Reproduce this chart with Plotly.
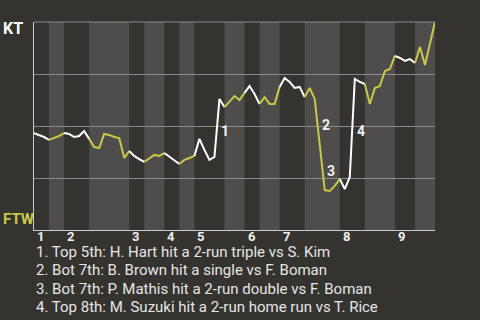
import plotly.graph_objects as go

# ---- data -----------------------------------------------------------
away_team = "KT"
home_team = "FTW"

# KT win probability (%) after each play
win_prob = [46.6, 45.7, 44.7, 43.3, 44.2, 45.2, 46.6, 46.2, 44.7, 45.2,
            47.6, 43.8, 39.9, 39.4, 46.2, 45.7, 44.7, 44.2, 34.6, 38.0,
            35.6, 34.1, 32.7, 34.6, 36.1, 35.6, 37.0, 35.1, 33.2, 31.7,
            33.7, 34.6, 35.6, 43.8, 38.5, 33.7, 35.1, 63.0, 59.1, 61.5,
            64.4, 62.5, 65.9, 69.2, 65.4, 60.6, 63.9, 60.6, 60.6, 68.8,
            73.1, 71.2, 68.3, 68.8, 63.9, 68.3, 63.0, 40.9, 19.2, 18.8,
            21.2, 24.5, 19.7, 25.5, 72.6, 71.2, 70.2, 60.6, 68.3, 69.2,
            76.4, 77.4, 83.7, 82.7, 81.3, 82.2, 80.3, 88.0, 79.3, 89.4,
            100.0]

# play index at which each half inning starts (top 1, bot 1, top 2, ...)
half_starts = [0, 3, 6, 11, 19, 22, 26, 29, 32, 38, 42, 45, 49, 54, 61, 66, 72, 76]
last_play = 80
inning_labels = ["1", "2", "3", "4", "5", "6", "7", "8", "9"]

event_plays = [37, 57, 58, 64]
event_texts = [
    "Top 5th: H. Hart hit a 2-run triple vs S. Kim",
    "Bot 7th: B. Brown hit a single vs F. Boman",
    "Bot 7th: P. Mathis hit a 2-run double vs F. Boman",
    "Top 8th: M. Suzuki hit a 2-run home run vs T. Rice",
]

# ---- style ----------------------------------------------------------
BG = "#35332f"
BAND = "#4e4d4b"
YEL = "#c8c84c"
WHITE = "#ffffff"
GRID = "#8a8a8a"
FONT = "Roboto"

fig = go.Figure()
bounds = half_starts + [last_play]
for k in range(len(half_starts)):
    a, b = bounds[k], bounds[k + 1]
    color = WHITE if k % 2 == 0 else YEL
    fig.add_trace(go.Scatter(
        x=list(range(a, b + 1)), y=win_prob[a:b + 1], mode="lines",
        line=dict(color=color, width=2), hoverinfo="skip", showlegend=False))
    if k % 2 == 1:
        fig.add_shape(type="rect", xref="x", yref="paper", x0=a, x1=b,
                      y0=0, y1=1, fillcolor=BAND, line_width=0, layer="below")
# top border gridline
fig.add_shape(type="line", xref="paper", yref="paper", x0=0, x1=1, y0=1, y1=1,
              line=dict(color=GRID, width=1), layer="below")

annotations = []
# inning numbers
for lab, start in zip(inning_labels, half_starts[::2]):
    annotations.append(dict(x=start, y=0, xref="x", yref="paper", text=f"<b>{lab}</b>",
                            xanchor="left", yanchor="middle", xshift=1, yshift=-6,
                            showarrow=False, font=dict(family=FONT, size=13, color="#f0f0f0")))
# event markers
for n, p in enumerate(event_plays, start=1):
    mid = (win_prob[p - 1] + win_prob[p]) / 2
    annotations.append(dict(x=p, y=mid, xref="x", yref="y", text=f"<b>{n}</b>",
                            xanchor="left", yanchor="middle", xshift=0, yshift=-3,
                            showarrow=False, font=dict(family=FONT, size=14, color="#f0f0f0")))
# event list
for n, t in enumerate(event_texts, start=1):
    annotations.append(dict(x=0, y=0, xref="paper", yref="paper", text=f"{n}. {t}",
                            xanchor="left", yanchor="middle", xshift=0,
                            yshift=-(21.5 + 18.6 * (n - 1)),
                            showarrow=False, font=dict(family=FONT, size=15, color="#e6e6e6")))
# team labels
annotations.append(dict(x=0, y=1, xref="paper", yref="paper", text=f"<b>{away_team}</b>",
                        xanchor="left", yanchor="middle", xshift=-33, yshift=-6,
                        showarrow=False, font=dict(family=FONT, size=16, color=WHITE)))
annotations.append(dict(x=0, y=0, xref="paper", yref="paper", text=f"<b>{home_team}</b>",
                        xanchor="left", yanchor="middle", xshift=-33, yshift=11,
                        showarrow=False, font=dict(family=FONT, size=15, color=YEL)))

fig.update_layout(
    width=480, height=320,
    margin=dict(l=34, r=45, t=22, b=90, autoexpand=False),
    paper_bgcolor=BG, plot_bgcolor=BG,
    annotations=annotations,
    xaxis=dict(range=[0, last_play], showgrid=False, zeroline=False, showticklabels=False,
               ticks="", showline=True, linecolor="#cccccc", linewidth=1, fixedrange=True),
    yaxis=dict(range=[0, 100], tickvals=[25, 50, 75, 100], showgrid=True,
               gridcolor=GRID, gridwidth=1, zeroline=False, showticklabels=False,
               ticks="", showline=True, linecolor="#cccccc", linewidth=1, fixedrange=True),
    showlegend=False,
)

fig.write_html("out.html", config={"displayModeBar": False})
